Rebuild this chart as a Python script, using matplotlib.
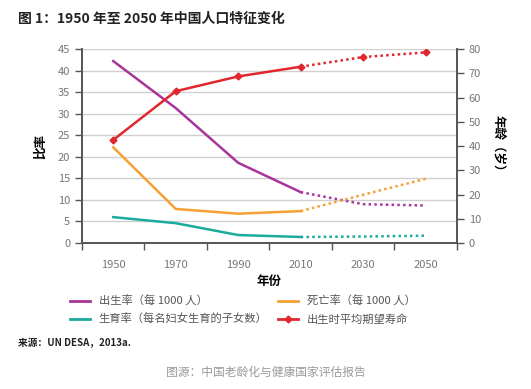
import matplotlib
matplotlib.use("Agg")
import matplotlib.pyplot as plt
from matplotlib.lines import Line2D

plt.rcParams['font.family'] = ['Noto Sans CJK SC', 'DejaVu Sans']

years = ['1950', '1970', '1990', '2010', '2030', '2050']
birth = [42.2, 31.3, 18.6, 11.8, 9.0, 8.7]
death = [22.2, 7.9, 6.8, 7.4, 11.2, 14.9]
fertility = [6.0, 4.6, 1.85, 1.4, 1.5, 1.7]
life = [42.5, 62.6, 68.7, 72.7, 76.7, 78.6]

c_birth = '#a8349c'
c_death = '#f4a033'
c_fert = '#1bab9c'
c_life = '#e2262d'
tick_c = '#777777'
spine_c = '#555555'

fig = plt.figure(figsize=(5.31, 3.89), dpi=100)
ax = fig.add_axes([0.1544, 0.3753, 0.7062, 0.4987])
ax2 = ax.twinx()

x = list(range(len(years)))
n_hist = 4  # 1950-2010 observed, rest projected

def draw(a, vals, color, marker=None):
    a.plot(x[:n_hist], vals[:n_hist], color=color, lw=1.8, marker=marker, ms=3.5)
    a.plot(x[n_hist - 1:], vals[n_hist - 1:], color=color, lw=1.8, ls=(0, (1, 1.3)),
           marker=marker, ms=3.5, markevery=[1, 2] if marker else None)

draw(ax, birth, c_birth)
draw(ax, death, c_death)
draw(ax, fertility, c_fert)
draw(ax2, life, c_life, marker='D')

ax.set_xlim(-0.5, 5.5)
ax.set_ylim(0, 45)
ax.set_yticks(range(0, 46, 5))
ax2.set_ylim(0, 80)
ax2.set_yticks(range(0, 81, 10))
ax.yaxis.grid(True, color='#d0d0d0', lw=1)
ax.set_axisbelow(True)

ax.set_xticks(x)
ax.set_xticklabels(years)
ax.set_xticks([i - 0.5 for i in range(len(years) + 1)], minor=True)
ax.tick_params(axis='x', which='major', length=0, pad=12, labelsize=8, labelcolor=tick_c)
ax.tick_params(axis='x', which='minor', length=5, width=1, color=spine_c)
ax.tick_params(axis='y', length=5, width=1, color=spine_c, labelsize=8, labelcolor=tick_c)
ax2.tick_params(axis='y', length=5, width=1, color=spine_c, labelsize=8, labelcolor=tick_c)

for a in (ax, ax2):
    a.spines['top'].set_visible(False)
    for s in ('left', 'right', 'bottom'):
        a.spines[s].set_color(spine_c)
        a.spines[s].set_linewidth(1.2)

ax.set_xlabel('年份', fontsize=9, fontweight='bold', labelpad=4)
ax.set_ylabel('比率', fontsize=9, fontweight='bold', labelpad=8)
ax2.set_ylabel('年龄（岁）', fontsize=9, fontweight='bold', rotation=-90, labelpad=17)

fig.text(0.034, 0.952, '图 1：1950 年至 2050 年中国人口特征变化', fontsize=10,
         fontweight='bold', ha='left', va='center', color='#222222')

handles = [
    Line2D([], [], color=c_birth, lw=2),
    Line2D([], [], color=c_fert, lw=2),
    Line2D([], [], color=c_death, lw=2),
    Line2D([], [], color=c_life, lw=2, marker='D', ms=3.5),
]
labels = ['出生率（每 1000 人）', '生育率（每名妇女生育的子女数）',
          '死亡率（每 1000 人）', '出生时平均期望寿命']
fig.legend(handles, labels, ncol=2, loc='upper left', bbox_to_anchor=(0.112, 0.265),
           frameon=False, fontsize=8.1, labelcolor='#555555', handlelength=1.8,
           columnspacing=0.9, handletextpad=0.8, labelspacing=0.6)

fig.text(0.034, 0.118, '来源：UN DESA，2013a.', fontsize=7, fontweight='bold',
         ha='left', va='center', color='#222222')
fig.text(0.5, 0.044, '图源：中国老龄化与健康国家评估报告', fontsize=8.5,
         ha='center', va='center', color='#999999')

fig.savefig('out.png', dpi=100)
